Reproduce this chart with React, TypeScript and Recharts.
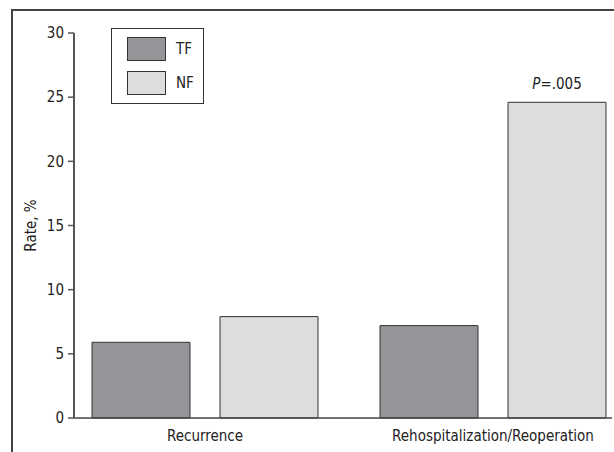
import React from "react";
import {
  BarChart,
  Bar,
  XAxis,
  YAxis,
  Legend,
  LabelList,
} from "recharts";

const categories = ["Recurrence", "Rehospitalization/Reoperation"];
const tfRates = [5.9, 7.2];
const nfRates = [7.9, 24.6];
const pNotes = ["", "=.005"];
const yTicks = [0, 5, 10, 15, 20, 25, 30];

const seriesNames = ["TF", "NF"];
const seriesColors = ["#939598", "#dcdddf"];

const FONT = '"DejaVu Sans Condensed", "Liberation Sans Narrow", "Liberation Sans", Arial, sans-serif';

const data = categories.map((name, i) => ({
  name,
  TF: tfRates[i],
  NF: nfRates[i],
  note: pNotes[i],
}));

const renderLegend = () => (
  <div
    style={{
      width: 93,
      height: 76,
      border: "1px solid #333",
      background: "#fff",
      boxSizing: "border-box",
      fontFamily: FONT,
      fontSize: 15,
      color: "#222",
    }}
  >
    {seriesNames.map((s, i) => (
      <div
        key={s}
        style={{
          display: "flex",
          alignItems: "center",
          marginLeft: 15,
          marginTop: i === 0 ? 8 : 10,
        }}
      >
        <div
          style={{
            width: 39,
            height: 24,
            background: seriesColors[i],
            border: "1px solid #333",
            boxSizing: "border-box",
          }}
        />
        <span style={{ marginLeft: 10 }}>{s}</span>
      </div>
    ))}
  </div>
);

const renderNote = (props: any) => {
  const { x, y, width, value } = props;
  if (!value) return null;
  return (
    <text
      x={x + width / 2}
      y={y - 13}
      textAnchor="middle"
      fontFamily={FONT}
      fontSize={15}
      fill="#222"
    >
      <tspan fontStyle="italic">P</tspan>
      <tspan>{value}</tspan>
    </text>
  );
};

export default function App() {
  return (
    <div
      style={{
        position: "absolute",
        left: 0,
        top: 0,
        width: 614,
        height: 452,
        background: "#fff",
        overflow: "hidden",
      }}
    >
      <div
        style={{
          position: "absolute",
          left: 11,
          top: 9,
          width: 620,
          height: 460,
          borderLeft: "2px solid #444",
          borderTop: "2px solid #444",
        }}
      />
      <div style={{ position: "absolute", left: 0, top: 0 }}>
        <BarChart
          width={614}
          height={452}
          data={data}
          margin={{ top: 33, right: 2, bottom: 0, left: 0 }}
          barSize={98}
          barGap={30}
          style={{ fontFamily: FONT }}
        >
          <XAxis
            dataKey="name"
            height={34}
            padding={{ left: -13, right: -25 }}
            tickLine={false}
            axisLine={{ stroke: "#444", strokeWidth: 1.5 }}
            tick={{ fill: "#222", fontSize: 15, fontFamily: FONT }}
            tickMargin={6}
          />
          <YAxis
            width={74}
            domain={[0, 30]}
            ticks={yTicks}
            interval={0}
            tickSize={6}
            tickMargin={4}
            axisLine={{ stroke: "#555", strokeWidth: 2 }}
            tickLine={{ stroke: "#555", strokeWidth: 1.5 }}
            tick={{ fill: "#222", fontSize: 15, fontFamily: FONT }}
            label={{
              value: "Rate, %",
              angle: -90,
              position: "insideLeft",
              offset: 31,
              style: { textAnchor: "middle", fill: "#222", fontSize: 15, fontFamily: FONT },
            }}
          />
          <Legend
            layout="horizontal"
            verticalAlign="middle"
            align="center"
            content={renderLegend}
            wrapperStyle={{ left: 111, top: 28, width: 93, height: 76 }}
          />
          <Bar
            dataKey="TF"
            fill={seriesColors[0]}
            stroke="#333"
            strokeWidth={1}
            isAnimationActive={false}
          />
          <Bar
            dataKey="NF"
            fill={seriesColors[1]}
            stroke="#333"
            strokeWidth={1}
            isAnimationActive={false}
          >
            <LabelList dataKey="note" content={renderNote} />
          </Bar>
        </BarChart>
      </div>
    </div>
  );
}
